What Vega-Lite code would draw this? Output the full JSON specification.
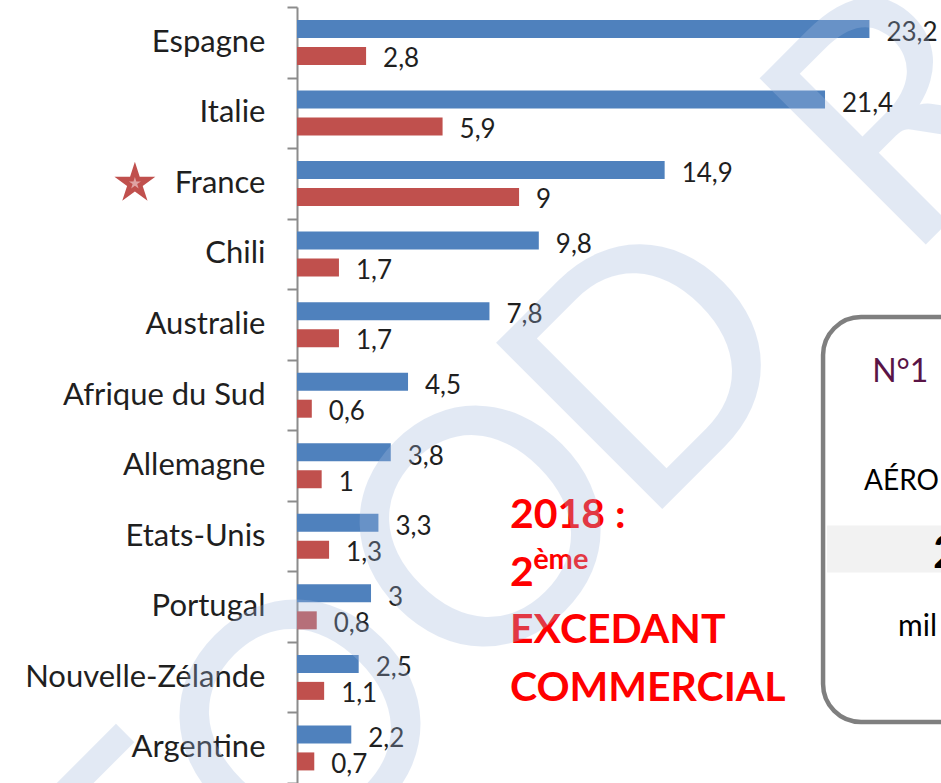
{
  "$schema": "https://vega.github.io/schema/vega-lite/v6.json",
  "width": 644,
  "height": 776,
  "autosize": {"type": "none"},
  "padding": {"left": 297, "top": 7, "right": 0, "bottom": 0},
  "background": "white",
  "config": {"view": {"stroke": null}, "font": "Lato"},
  "datasets": {
    "wine": [
      {"country": "Espagne", "series": "Volume", "v": 23.2},
      {"country": "Espagne", "series": "Valeur", "v": 2.8},
      {"country": "Italie", "series": "Volume", "v": 21.4},
      {"country": "Italie", "series": "Valeur", "v": 5.9},
      {"country": "France", "series": "Volume", "v": 14.9},
      {"country": "France", "series": "Valeur", "v": 9},
      {"country": "Chili", "series": "Volume", "v": 9.8},
      {"country": "Chili", "series": "Valeur", "v": 1.7},
      {"country": "Australie", "series": "Volume", "v": 7.8},
      {"country": "Australie", "series": "Valeur", "v": 1.7},
      {"country": "Afrique du Sud", "series": "Volume", "v": 4.5},
      {"country": "Afrique du Sud", "series": "Valeur", "v": 0.6},
      {"country": "Allemagne", "series": "Volume", "v": 3.8},
      {"country": "Allemagne", "series": "Valeur", "v": 1},
      {"country": "Etats-Unis", "series": "Volume", "v": 3.3},
      {"country": "Etats-Unis", "series": "Valeur", "v": 1.3},
      {"country": "Portugal", "series": "Volume", "v": 3},
      {"country": "Portugal", "series": "Valeur", "v": 0.8},
      {"country": "Nouvelle-Zélande", "series": "Volume", "v": 2.5},
      {"country": "Nouvelle-Zélande", "series": "Valeur", "v": 1.1},
      {"country": "Argentine", "series": "Volume", "v": 2.2},
      {"country": "Argentine", "series": "Valeur", "v": 0.7}
    ]
  },
  "layer": [
    {
      "data": {"name": "wine"},
      "transform": [{"filter": "datum.series == 'Volume'"}],
      "mark": {"type": "bar", "height": 18, "yOffset": -13.3, "color": "#4F81BD"},
      "encoding": {
        "y": {
          "field": "country", "type": "nominal",
          "scale": {"domain": ["Espagne", "Italie", "France", "Chili", "Australie", "Afrique du Sud", "Allemagne", "Etats-Unis", "Portugal", "Nouvelle-Zélande", "Argentine"], "paddingInner": 0, "paddingOuter": 0},
          "axis": {
            "title": null, "grid": false,
            "domainColor": "#8C8C8C", "domainWidth": 2,
            "tickColor": "#8C8C8C", "tickWidth": 2, "tickSize": 10, "tickBand": "extent",
            "labelFont": "Lato", "labelFontSize": 31, "labelColor": "#1F1F1F",
            "labelPadding": 22, "labelLimit": 400
          }
        },
        "x": {"field": "v", "type": "quantitative", "scale": {"domain": [0, 26.1], "nice": false}, "axis": null}
      }
    },
    {
      "data": {"name": "wine"},
      "transform": [{"filter": "datum.series == 'Valeur'"}],
      "mark": {"type": "bar", "height": 18, "yOffset": 13.7, "color": "#C0504D"},
      "encoding": {
        "y": {"field": "country", "type": "nominal"},
        "x": {"field": "v", "type": "quantitative"}
      }
    },
    {
      "data": {"name": "wine"},
      "transform": [{"filter": "datum.series == 'Volume'"}, {"calculate": "replace(toString(datum.v), '.', ',')", "as": "lab"}],
      "mark": {"type": "text", "align": "left", "baseline": "middle", "dx": 17, "dy": -9, "fontSize": 26, "font": "Lato", "color": "#1F1F1F"},
      "encoding": {
        "y": {"field": "country", "type": "nominal"},
        "x": {"field": "v", "type": "quantitative"},
        "text": {"field": "lab"}
      }
    },
    {
      "data": {"name": "wine"},
      "transform": [{"filter": "datum.series == 'Valeur'"}, {"calculate": "replace(toString(datum.v), '.', ',')", "as": "lab"}],
      "mark": {"type": "text", "align": "left", "baseline": "middle", "dx": 17, "dy": 17, "fontSize": 26, "font": "Lato", "color": "#1F1F1F"},
      "encoding": {
        "y": {"field": "country", "type": "nominal"},
        "x": {"field": "v", "type": "quantitative"},
        "text": {"field": "lab"}
      }
    },
    {
      "data": {"values": [{"country": "France", "v": -6.57}]},
      "mark": {"type": "point", "shape": "M0,-1L0.2245,-0.309L0.951,-0.309L0.363,0.118L0.588,0.809L0,0.382L-0.588,0.809L-0.363,0.118L-0.951,-0.309L-0.2245,-0.309Z", "filled": true, "size": 1850, "color": "#C0504D", "opacity": 1},
      "encoding": {
        "y": {"field": "country", "type": "nominal"},
        "x": {"field": "v", "type": "quantitative"}
      }
    },
    {
      "data": {"values": [{"country": "France", "v": -6.57}]},
      "mark": {"type": "point", "shape": "M0,-1L0.2245,-0.309L0.951,-0.309L0.363,0.118L0.588,0.809L0,0.382L-0.588,0.809L-0.363,0.118L-0.951,-0.309L-0.2245,-0.309Z", "filled": true, "size": 160, "color": "#DFA3A3", "opacity": 1},
      "encoding": {
        "y": {"field": "country", "type": "nominal"},
        "x": {"field": "v", "type": "quantitative"}
      }
    },
    {
      "data": {"values": [{"country": "Etats-Unis", "v": 8.63, "t": "2018 :\n2\nEXCEDANT\nCOMMERCIAL"}]},
      "mark": {"type": "text", "align": "left", "baseline": "alphabetic", "lineBreak": "\n", "lineHeight": 57.5, "dy": -8, "font": "Lato", "fontWeight": "bold", "fontSize": 41, "color": "#FF0000"},
      "encoding": {
        "y": {"field": "country", "type": "nominal"},
        "x": {"field": "v", "type": "quantitative"},
        "text": {"field": "t"}
      }
    },
    {
      "data": {"values": [{"country": "Portugal", "v": 9.57, "t": "ème"}]},
      "mark": {"type": "text", "align": "left", "baseline": "alphabetic", "dy": -38, "font": "Lato", "fontWeight": "bold", "fontSize": 29, "color": "#FF0000"},
      "encoding": {
        "y": {"field": "country", "type": "nominal"},
        "x": {"field": "v", "type": "quantitative"},
        "text": {"field": "t"}
      }
    },
    {
      "data": {"values": [{"country": "Etats-Unis", "v": 21.32, "v2": 28}]},
      "mark": {"type": "rect", "clip": true, "fill": "white", "stroke": "#7F7F7F", "strokeWidth": 4.5, "cornerRadius": 38, "height": 405, "yOffset": -16.5},
      "encoding": {
        "y": {"field": "country", "type": "nominal"},
        "x": {"field": "v", "type": "quantitative"},
        "x2": {"field": "v2"}
      }
    },
    {
      "data": {"values": [{"country": "Etats-Unis", "v": 21.48, "v2": 28}]},
      "mark": {"type": "rect", "clip": true, "fill": "#F2F2F2", "height": 47, "yOffset": 13},
      "encoding": {
        "y": {"field": "country", "type": "nominal"},
        "x": {"field": "v", "type": "quantitative"},
        "x2": {"field": "v2"}
      }
    },
    {
      "data": {"values": [{"country": "Afrique du Sud", "v": 23.31, "t": "N°1"}]},
      "mark": {"type": "text", "align": "left", "baseline": "alphabetic", "dy": -13, "font": "Lato", "fontSize": 32, "color": "#5A1446"},
      "encoding": {
        "y": {"field": "country", "type": "nominal"},
        "x": {"field": "v", "type": "quantitative"},
        "text": {"field": "t"}
      }
    },
    {
      "data": {"values": [{"country": "Allemagne", "v": 22.98, "t": "AÉRO"}]},
      "mark": {"type": "text", "align": "left", "baseline": "alphabetic", "dy": 24.4, "font": "Lato", "fontSize": 28, "color": "#000000"},
      "encoding": {
        "y": {"field": "country", "type": "nominal"},
        "x": {"field": "v", "type": "quantitative"},
        "text": {"field": "t"}
      }
    },
    {
      "data": {"values": [{"country": "Etats-Unis", "v": 25.78, "t": "2"}]},
      "mark": {"type": "text", "align": "left", "baseline": "alphabetic", "dy": 32, "font": "Lato", "fontWeight": "bold", "fontSize": 46, "color": "#000000"},
      "encoding": {
        "y": {"field": "country", "type": "nominal"},
        "x": {"field": "v", "type": "quantitative"},
        "text": {"field": "t"}
      }
    },
    {
      "data": {"values": [{"country": "Portugal", "v": 24.36, "t": "mil"}]},
      "mark": {"type": "text", "align": "left", "baseline": "alphabetic", "dy": 29.3, "font": "Lato", "fontSize": 30, "color": "#000000"},
      "encoding": {
        "y": {"field": "country", "type": "nominal"},
        "x": {"field": "v", "type": "quantitative"},
        "text": {"field": "t"}
      }
    },
    {
      "data": {"values": [{"country": "Argentine", "v": -6.32, "ch": "F"}]},
      "mark": {"type": "text", "align": "center", "baseline": "alphabetic", "dx": -82.9, "dy": 200.4, "angle": 315, "font": "Lato", "fontSize": 328, "fill": "#A2B9DE", "opacity": 0.3},
      "encoding": {
        "y": {"field": "country", "type": "nominal"},
        "x": {"field": "v", "type": "quantitative"},
        "text": {"field": "ch"}
      }
    },
    {
      "data": {"values": [{"country": "Argentine", "v": 0.12, "ch": "O"}]},
      "mark": {"type": "text", "align": "center", "baseline": "alphabetic", "dx": 19.7, "dy": 97.8, "angle": 315, "font": "Lato", "fontSize": 328, "fill": "#A2B9DE", "opacity": 0.3},
      "encoding": {
        "y": {"field": "country", "type": "nominal"},
        "x": {"field": "v", "type": "quantitative"},
        "text": {"field": "ch"}
      }
    },
    {
      "data": {"values": [{"country": "Etats-Unis", "v": 7.42, "ch": "O"}]},
      "mark": {"type": "text", "align": "center", "baseline": "alphabetic", "dx": 7.1, "dy": 110.4, "angle": 315, "font": "Lato", "fontSize": 328, "fill": "#A2B9DE", "opacity": 0.3},
      "encoding": {
        "y": {"field": "country", "type": "nominal"},
        "x": {"field": "v", "type": "quantitative"},
        "text": {"field": "ch"}
      }
    },
    {
      "data": {"values": [{"country": "Australie", "v": 14.15, "ch": "D"}]},
      "mark": {"type": "text", "align": "center", "baseline": "alphabetic", "dx": -24.4, "dy": 141.9, "angle": 315, "font": "Lato", "fontSize": 328, "fill": "#A2B9DE", "opacity": 0.3},
      "encoding": {
        "y": {"field": "country", "type": "nominal"},
        "x": {"field": "v", "type": "quantitative"},
        "text": {"field": "ch"}
      }
    },
    {
      "data": {"values": [{"country": "Italie", "v": 24.2, "ch": "R"}]},
      "mark": {"type": "text", "align": "center", "baseline": "alphabetic", "dx": 2, "dy": 115.5, "angle": 315, "font": "Lato", "fontSize": 328, "fill": "#A2B9DE", "opacity": 0.3},
      "encoding": {
        "y": {"field": "country", "type": "nominal"},
        "x": {"field": "v", "type": "quantitative"},
        "text": {"field": "ch"}
      }
    }
  ]
}
